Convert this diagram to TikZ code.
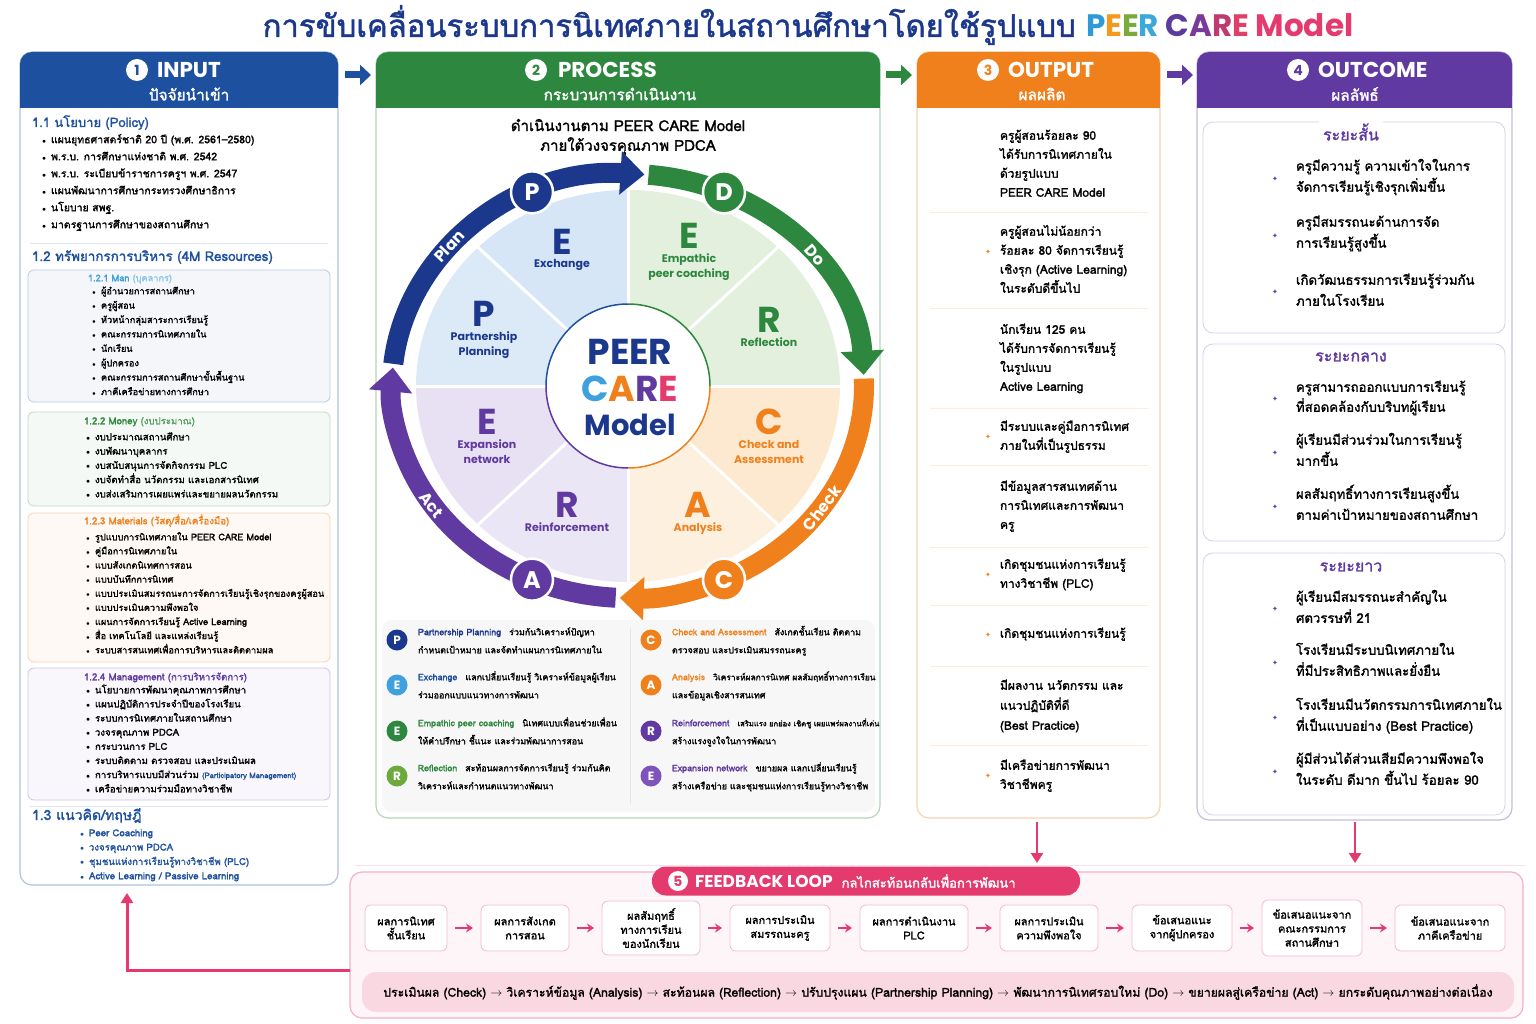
\documentclass[tikz,border=0pt]{standalone}
\usepackage{fontspec}
\setmainfont{Loma}[Script=Thai, AutoFakeBold=1.6]
\newfontfamily\popfont{Poppins}
\newfontfamily\symfont{DejaVu Sans}
\usepackage{xcolor}
\usepackage{tikz}
\usetikzlibrary{
  arrows.meta,
  positioning,
  calc
}
\newcommand{\dotb}{\makebox[9pt][l]{$\scriptstyle\bullet$}}

\begin{document}
\begin{tikzpicture}[
  x=1pt, y=-1pt,
  every node/.style={inner sep=0pt, outer sep=0pt},
  numc/.style={circle, fill=white, minimum size=22, font=\popfont\bfseries\fontsize{14}{14}\selectfont},
  headt/.style={text=white, font=\popfont\bfseries\fontsize{21.5}{22}\selectfont},
  subt/.style={text=white, font=\bfseries\fontsize{15.4}{16}\selectfont},
  sect/.style={anchor=west, font=\bfseries\fontsize{13}{15}\selectfont, text height=9pt, text depth=3pt},
  item/.style={anchor=west, font=\bfseries\fontsize{10.5}{12}\selectfont, text height=7pt, text depth=2.5pt},
  small/.style={item, font=\bfseries\fontsize{9.2}{10}\selectfont},
  subbox/.style={rounded corners=6, line width=0.8},
  column/.style={fill=white, rounded corners=12, line width=1.2},
  bigl/.style={font=\popfont\bfseries\fontsize{36}{36}\selectfont},
  secl/.style={font=\popfont\bfseries\fontsize{11}{15}\selectfont, align=center},
  ring/.style={line width=20, -{Triangle[width=42pt,length=24pt]}},
  ringc/.style={circle, draw=white, line width=2.5, minimum size=42, text=white, font=\popfont\bfseries\fontsize{24}{24}\selectfont},
  ringt/.style={text=white, font=\popfont\bfseries\fontsize{16}{16}\selectfont},
  legc/.style={circle, minimum size=21, text=white, font=\popfont\bfseries\fontsize{12}{12}\selectfont},
  legt/.style={anchor=west, font=\bfseries\fontsize{8.9}{10}\selectfont, text height=6.5pt, text depth=2pt},
  outt/.style={anchor=west, font=\bfseries\fontsize{12}{14}\selectfont, text height=8.5pt, text depth=3pt},
  occt/.style={outt, font=\bfseries\fontsize{13.2}{15}\selectfont},
  spark/.style={font=\symfont\fontsize{7}{7}\selectfont},
  termt/.style={fill=white, inner sep=4pt, text=cPurple, font=\bfseries\fontsize{16}{16}\selectfont},
  fbbox/.style={draw=cPink!35, fill=white, rounded corners=6, line width=0.8, align=center, font=\bfseries\fontsize{11}{14}\selectfont},
  fbarr/.style={cPink, line width=2, -{Stealth[length=7pt,width=9pt]}, shorten >=8pt, shorten <=8pt},
  colarr/.style={line width=7, -{Triangle[length=11pt,width=20pt]}},
  pinkarr/.style={cPink, line width=2.5, -{Triangle[length=10pt,width=12pt]}}
]
  % colours
  \definecolor{cNavy}{RGB}{28,56,140}
  \definecolor{cBlue}{RGB}{30,80,160}
  \definecolor{cSky}{RGB}{62,160,220}
  \definecolor{cGreen}{RGB}{46,135,62}
  \definecolor{cLime}{RGB}{108,170,62}
  \definecolor{cOrange}{RGB}{240,128,28}
  \definecolor{cPurple}{RGB}{96,58,160}
  \definecolor{cViolet}{RGB}{124,84,188}
  \definecolor{cPink}{RGB}{228,58,110}
  \definecolor{sBlue}{RGB}{220,234,248}
  \definecolor{sBlue2}{RGB}{214,230,247}
  \definecolor{sGreen}{RGB}{227,240,221}
  \definecolor{sOrange}{RGB}{253,233,208}
  \definecolor{sOrange2}{RGB}{253,240,222}
  \definecolor{sPurple}{RGB}{235,230,245}
  \definecolor{sPurple2}{RGB}{231,225,243}
  \definecolor{tP}{RGB}{46,154,214}
  \definecolor{tE}{RGB}{243,154,30}
  \definecolor{tE2}{RGB}{122,171,58}
  \definecolor{tR}{RGB}{58,168,216}
  \definecolor{tC}{RGB}{91,60,156}
  \definecolor{tA}{RGB}{122,58,154}
  \definecolor{tR2}{RGB}{192,58,112}
  \definecolor{tE3}{RGB}{224,64,104}

  \useasboundingbox (0,0) rectangle (1536,1024);
  \fill[white] (0,0) rectangle (1536,1024);

  % title
  \node[text=cNavy, font=\bfseries\fontsize{31}{34}\selectfont] (title) at (808,25)
    {การขับเคลื่อนระบบการนิเทศภายในสถานศึกษาโดยใช้รูปแบบ {\popfont{\color{tP}P}{\color{tE}E}{\color{tE2}E}{\color{tR}R} {\color{tC}C}{\color{tA}A}{\color{tR2}R}{\color{tE3}E} {\color{cPink}Model}}};

  % ---------- 1 input ----------
  \draw[column, draw=cBlue!35] (20,52) rectangle (338,885);
  \fill[cBlue, rounded corners=12] (20,52) rectangle (338,108);
  \fill[cBlue] (20,92) rectangle (338,108);
  \node[numc, text=cBlue] (n1) at (137,70) {1};
  \node[headt, right=9pt of n1] (hIn) {INPUT};
  \node[subt] (sIn) at (189,94) {ปัจจัยนำเข้า};

  \node[sect, text=cBlue] (pol) at (32,124) {1.1 นโยบาย (Policy)};
  \foreach \t [count=\i] in {แผนยุทธศาสตร์ชาติ 20 ปี (พ.ศ. 2561–2580), พ.ร.บ. การศึกษาแห่งชาติ พ.ศ. 2542,
    พ.ร.บ. ระเบียบข้าราชการครูฯ พ.ศ. 2547, แผนพัฒนาการศึกษากระทรวงศึกษาธิการ, นโยบาย สพฐ., มาตรฐานการศึกษาของสถานศึกษา}
    \node[item] (pol\i) at (42,{124+17*\i}) {\dotb\t};
  \draw[cBlue!15, line width=1] (30,244) -- (328,244);
  \node[sect, text=cBlue, font=\bfseries\fontsize{13.4}{15}\selectfont] (res) at (32,258) {1.2 ทรัพยากรการบริหาร (4M Resources)};

  % 4M boxes
  \draw[subbox, draw=cBlue!30, fill=cBlue!5] (28,270) rectangle (330,402);
  \node[small, text=cSky] (man) at (88,279) {1.2.1 Man {\color{cSky!60}(บุคลากร)}};
  \foreach \t [count=\i] in {ผู้อำนวยการสถานศึกษา, ครูผู้สอน, หัวหน้ากลุ่มสาระการเรียนรู้, คณะกรรมการนิเทศภายใน,
    นักเรียน, ผู้ปกครอง, คณะกรรมการสถานศึกษาขั้นพื้นฐาน, ภาคีเครือข่ายทางการศึกษา}
    \node[small] (man\i) at (92,{277.6+14.4*\i}) {\dotb\t};

  \draw[subbox, draw=cGreen!30, fill=cGreen!5] (28,412) rectangle (330,506);
  \node[small, text=cGreen, font=\bfseries\fontsize{9.6}{10}\selectfont] (mon) at (84,422) {1.2.2 Money {\color{cGreen!80}(งบประมาณ)}};
  \foreach \t [count=\i] in {งบประมาณสถานศึกษา, งบพัฒนาบุคลากร, งบสนับสนุนการจัดกิจกรรม PLC,
    งบจัดทำสื่อ นวัตกรรม และเอกสารนิเทศ, งบส่งเสริมการเผยแพร่และขยายผลนวัตกรรม}
    \node[small, font=\bfseries\fontsize{9.6}{10}\selectfont] (mon\i) at (86,{423.7+14.3*\i}) {\dotb\t};

  \draw[subbox, draw=cOrange!35, fill=cOrange!5] (28,513) rectangle (330,662);
  \node[small, text=cOrange, font=\bfseries\fontsize{9.6}{10}\selectfont] (mat) at (84,522) {1.2.3 Materials (วัสดุ/สื่อ/เครื่องมือ)};
  \foreach \t [count=\i] in {รูปแบบการนิเทศภายใน PEER CARE Model, คู่มือการนิเทศภายใน, แบบสังเกตนิเทศการสอน,
    แบบบันทึกการนิเทศ, แบบประเมินสมรรถนะการจัดการเรียนรู้เชิงรุกของครูผู้สอน, แบบประเมินความพึงพอใจ,
    แผนการจัดการเรียนรู้ Active Learning, สื่อ เทคโนโลยี และแหล่งเรียนรู้, ระบบสารสนเทศเพื่อการบริหารและติดตามผล}
    \node[small] (mat\i) at (86,{523.9+14.125*\i}) {\dotb\t};

  \draw[subbox, draw=cPurple!30, fill=cPurple!4] (28,668) rectangle (330,800);
  \node[small, text=cPurple, font=\bfseries\fontsize{9.6}{10}\selectfont] (mgt) at (84,678) {1.2.4 Management (การบริหารจัดการ)};
  \foreach \t [count=\i] in {นโยบายการพัฒนาคุณภาพการศึกษา, แผนปฏิบัติการประจำปีของโรงเรียน, ระบบการนิเทศภายในสถานศึกษา,
    วงจรคุณภาพ PDCA, กระบวนการ PLC, ระบบติดตาม ตรวจสอบ และประเมินผล,
    การบริหารแบบมีส่วนร่วม {\color{cBlue}\fontsize{7.6}{8}\selectfont (Participatory Management)}, เครือข่ายความร่วมมือทางวิชาชีพ}
    \node[small, font=\bfseries\fontsize{9.6}{10}\selectfont] (mgt\i) at (86,{676.9+14.14*\i}) {\dotb\t};

  \draw[cBlue!15, line width=1] (30,806) -- (328,806);
  \node[sect, text=cBlue, font=\bfseries\fontsize{14}{16}\selectfont] (thy) at (32,817) {1.3 แนวคิด/ทฤษฎี};
  \foreach \t [count=\i] in {Peer Coaching, วงจรคุณภาพ PDCA, ชุมชนแห่งการเรียนรู้ทางวิชาชีพ (PLC), Active Learning / Passive Learning}
    \node[small, text=cBlue, font=\bfseries\fontsize{9.6}{10}\selectfont] (thy\i) at (80,{819.7+14.33*\i}) {\dotb\t};

  % ---------- 2 process ----------
  \draw[column, draw=cGreen!35] (376,52) rectangle (880,818);
  \fill[cGreen, rounded corners=12] (376,52) rectangle (880,108);
  \fill[cGreen] (376,92) rectangle (880,108);
  \node[numc, text=cGreen] (n2) at (536,70) {2};
  \node[headt, right=11pt of n2] (hPr) {PROCESS};
  \node[subt] (sPr) at (620,94) {กระบวนการดำเนินงาน};
  \node[font=\bfseries\fontsize{15}{16}\selectfont] (pr1) at (628,125) {ดำเนินงานตาม PEER CARE Model};
  \node[font=\bfseries\fontsize{15}{16}\selectfont] (pr2) at (628,146) {ภายใต้วงจรคุณภาพ PDCA};

  % wheel sectors
  \coordinate (ctr) at (628,386);
  \foreach \a/\c in {180/sBlue, 225/sBlue2, 270/sGreen, 315/sGreen, 0/sOrange, 45/sOrange2, 90/sPurple, 135/sPurple2}
    \fill[\c] (ctr) -- ++(\a:212 and 196) arc[start angle=\a, end angle=\a+45, x radius=212, y radius=196] -- cycle;
  \foreach \a in {0,45,...,315}
    \draw[white, line width=3] (ctr) -- ++(\a:214 and 198);

  % core
  \node[circle, fill=white, minimum size=164] (core) at (ctr) {};
  \draw[cBlue, line width=1.5] (ctr) ++(180:82) arc[start angle=180, end angle=270, radius=82];
  \draw[cGreen, line width=1.5] (ctr) ++(270:82) arc[start angle=270, end angle=360, radius=82];
  \draw[cOrange, line width=1.5] (ctr) ++(0:82) arc[start angle=0, end angle=90, radius=82];
  \draw[cPurple, line width=1.5] (ctr) ++(90:82) arc[start angle=90, end angle=180, radius=82];
  \node[bigl, text=cNavy] (cPeer) at (630,352) {PEER};
  \node[bigl] (cCare) at (630,389) {{\color{cSky}C}{\color{cOrange}A}{\color{cPurple}R}{\color{cPink}E}};
  \node[bigl, text=cNavy, font=\popfont\bfseries\fontsize{29}{29}\selectfont] (cModel) at (630,425) {Model};

  % sector letters
  \foreach \x/\y/\c/\l/\t [count=\i] in {562/242/cNavy/E/Exchange, 484/314/cNavy/P/Partnership\\Planning,
    689/236/cGreen/E/Empathic\\peer coaching, 769/320/cGreen/R/Reflection,
    769/422/cOrange/C/Check and\\Assessment, 698/505/cOrange/A/Analysis,
    567/505/cPurple/R/Reinforcement, 487/422/cPurple/E/Expansion\\network}
  {
    \node[bigl, text=\c] (sl\i) at (\x,\y) {\l};
    \node[secl, text=\c, below=5pt of sl\i] (st\i) {\t};
  }

  % pdca ring
  \draw[ring, cNavy] (ctr) ++(186:236 and 212) arc[start angle=186, end angle=274, x radius=236, y radius=212];
  \draw[ring, cGreen] (ctr) ++(275:236 and 212) arc[start angle=275, end angle=357, x radius=236, y radius=212];
  \draw[ring, cOrange] (ctr) ++(358:236 and 212) arc[start angle=358, end angle=452, x radius=236, y radius=212];
  \draw[ring, cPurple] (ctr) ++(93:236 and 212) arc[start angle=93, end angle=185, x radius=236, y radius=212];
  \path (ctr) ++(246:236 and 212) node[ringc, fill=cNavy] (rP) {P};
  \path (ctr) ++(294:236 and 212) node[ringc, fill=cGreen] (rD) {D};
  \path (ctr) ++(66:236 and 212) node[ringc, fill=cOrange] (rC) {C};
  \path (ctr) ++(114:236 and 212) node[ringc, fill=cPurple] (rA) {A};
  \path (ctr) ++(221:237 and 213) node[ringt, rotate=47] (lPlan) {Plan};
  \path (ctr) ++(322:237 and 213) node[ringt, rotate=-49] (lDo) {Do};
  \path (ctr) ++(35:237 and 213) node[ringt, rotate=52] (lCheck) {Check};
  \path (ctr) ++(146:237 and 213) node[ringt, rotate=-52] (lAct) {Act};

  % legend
  \fill[black!3, rounded corners=10] (382,620) rectangle (875,812);
  \draw[black!10] (630,628) -- (630,804);
  \foreach \x/\y/\c/\l/\k/\h/\t/\u [count=\i] in {
    397/640/cNavy/P/cNavy/Partnership Planning/ร่วมกันวิเคราะห์ปัญหา/กำหนดเป้าหมาย และจัดทำแผนการนิเทศภายใน,
    397/685/cSky/E/cBlue/Exchange/แลกเปลี่ยนเรียนรู้ วิเคราะห์ข้อมูลผู้เรียน/ร่วมออกแบบแนวทางการพัฒนา,
    397/731/cGreen/E/cGreen/Empathic peer coaching/นิเทศแบบเพื่อนช่วยเพื่อน/ให้คำปรึกษา ชี้แนะ และร่วมพัฒนาการสอน,
    397/776/cLime/R/cGreen/Reflection/สะท้อนผลการจัดการเรียนรู้ ร่วมกันคิด/วิเคราะห์และกำหนดแนวทางพัฒนา,
    651/640/cOrange/C/cOrange/Check and Assessment/สังเกตชั้นเรียน ติดตาม/ตรวจสอบ และประเมินสมรรถนะครู,
    651/685/cOrange/A/cOrange/Analysis/{\fontsize{8.4}{9}\selectfont วิเคราะห์ผลการนิเทศ ผลสัมฤทธิ์ทางการเรียน}/และข้อมูลเชิงสารสนเทศ,
    651/731/cPurple/R/cPurple/Reinforcement/{\fontsize{7.6}{9}\selectfont เสริมแรง ยกย่อง เชิดชู เผยแพร่ผลงานที่เด่น}/สร้างแรงจูงใจในการพัฒนา,
    651/776/cViolet/E/cPurple/Expansion network/ขยายผล แลกเปลี่ยนเรียนรู้/สร้างเครือข่าย และชุมชนแห่งการเรียนรู้ทางวิชาชีพ}
  {
    \node[legc, fill=\c] (lg\i) at (\x,\y) {\l};
    \node[legt] (lga\i) at (\x+21,\y-7) {{\color{\k}\h}\hspace{8pt}\t};
    \node[legt] (lgb\i) at (\x+21,\y+11) {\u};
  }

  % ---------- 3 output ----------
  \draw[column, draw=cOrange!35] (917,52) rectangle (1160,818);
  \fill[cOrange, rounded corners=12] (917,52) rectangle (1160,108);
  \fill[cOrange] (917,92) rectangle (1160,108);
  \node[numc, text=cOrange] (n3) at (988,70) {3};
  \node[headt, right=9pt of n3] (hOut) {OUTPUT};
  \node[subt] (sOut) at (1042,94) {ผลผลิต};
  \foreach \y in {212,308,408,465,547,605,666,745}
    \draw[cOrange!15] (930,\y) -- (1148,\y);
  \foreach \y/\t [count=\i] in {137/ครูผู้สอนร้อยละ 90, 156/ได้รับการนิเทศภายใน, 175/ด้วยรูปแบบ, 194/PEER CARE Model,
    233/ครูผู้สอนไม่น้อยกว่า, 252/ร้อยละ 80 จัดการเรียนรู้, 271/เชิงรุก (Active Learning), 290/ในระดับดีขึ้นไป,
    331/นักเรียน 125 คน, 350/ได้รับการจัดการเรียนรู้, 369/ในรูปแบบ, 388/Active Learning,
    428/มีระบบและคู่มือการนิเทศ, 447/ภายในที่เป็นรูปธรรม,
    488/มีข้อมูลสารสนเทศด้าน, 507/การนิเทศและการพัฒนา, 526/ครู,
    566/เกิดชุมชนแห่งการเรียนรู้, 585/ทางวิชาชีพ (PLC),
    635/เกิดชุมชนแห่งการเรียนรู้,
    687/มีผลงาน นวัตกรรม และ, 707/แนวปฏิบัติที่ดี, 727/(Best Practice),
    767/มีเครือข่ายการพัฒนา, 786/วิชาชีพครู}
    \node[outt] (out\i) at (1000,\y) {\t};
  \foreach \y [count=\i] in {252,437,575,635,776}
    \node[spark, text=cOrange] (sko\i) at (988,\y) {✦};

  % ---------- 4 outcome ----------
  \draw[column, draw=cPurple!35] (1197,52) rectangle (1512,820);
  \fill[cPurple, rounded corners=12] (1197,52) rectangle (1512,108);
  \fill[cPurple] (1197,92) rectangle (1512,108);
  \node[numc, text=cPurple] (n4) at (1298,70) {4};
  \node[headt, right=9pt of n4] (hOc) {OUTCOME};
  \node[subt] (sOc) at (1355,94) {ผลลัพธ์};
  \draw[subbox, draw=cPurple!25, fill=white, rounded corners=10] (1203,122) rectangle (1505,333);
  \draw[subbox, draw=cPurple!25, fill=white, rounded corners=10] (1203,344) rectangle (1505,541);
  \draw[subbox, draw=cPurple!25, fill=white, rounded corners=10] (1203,553) rectangle (1505,815);
  \node[termt] (tShort) at (1351,132) {ระยะสั้น};
  \node[termt] (tMid) at (1351,357) {ระยะกลาง};
  \node[termt] (tLong) at (1351,567) {ระยะยาว};
  \foreach \y/\t [count=\i] in {168/ครูมีความรู้ ความเข้าใจในการ, 189/จัดการเรียนรู้เชิงรุกเพิ่มขึ้น,
    224/ครูมีสมรรถนะด้านการจัด, 245/การเรียนรู้สูงขึ้น,
    282/เกิดวัฒนธรรมการเรียนรู้ร่วมกัน, 303/ภายในโรงเรียน,
    389/ครูสามารถออกแบบการเรียนรู้, 409/ที่สอดคล้องกับบริบทผู้เรียน,
    442/ผู้เรียนมีส่วนร่วมในการเรียนรู้, 463/มากขึ้น,
    496/ผลสัมฤทธิ์ทางการเรียนสูงขึ้น, 517/ตามค่าเป้าหมายของสถานศึกษา,
    599/ผู้เรียนมีสมรรถนะสำคัญใน, 620/ศตวรรษที่ 21,
    652/โรงเรียนมีระบบนิเทศภายใน, 673/ที่มีประสิทธิภาพและยั่งยืน,
    707/โรงเรียนมีนวัตกรรมการนิเทศภายใน, 728/ที่เป็นแบบอย่าง (Best Practice),
    761/ผู้มีส่วนได้ส่วนเสียมีความพึงพอใจ, 782/ในระดับ ดีมาก ขึ้นไป ร้อยละ 90}
    \node[occt] (oc\i) at (1296,\y) {\t};
  \foreach \y [count=\i] in {179,236,292,399,453,507,609,663,718,772}
    \node[spark, text=cPurple] (skc\i) at (1275,\y) {✦};

  % arrows between columns
  \coordinate (a1s) at (345,75);  \coordinate (a1e) at (371,75);
  \coordinate (a2s) at (886,75);  \coordinate (a2e) at (912,75);
  \coordinate (a3s) at (1167,75); \coordinate (a3e) at (1193,75);
  \draw[colarr, cBlue] (a1s) -- (a1e);
  \draw[colarr, cGreen] (a2s) -- (a2e);
  \draw[colarr, cPurple] (a3s) -- (a3e);

  % ---------- 5 feedback loop ----------
  \draw[cPink!15, line width=1] (355,865) -- (1525,865);
  \draw[fill=cPink!5, draw=cPink!40, line width=1.2, rounded corners=12] (350,872) rectangle (1523,1018);
  \node[fill=cPink, rounded corners=14, minimum width=428, minimum height=29] (fbHead) at (866,881) {};
  \node[numc, minimum size=20, text=cPink] (n5) at (678,881) {5};
  \node[headt, font=\popfont\bfseries\fontsize{17}{17}\selectfont, right=7pt of n5] (fbT) {FEEDBACK LOOP};
  \node[subt, font=\bfseries\fontsize{13}{13}\selectfont, right=9pt of fbT] (fbS) {กลไกสะท้อนกลับเพื่อการพัฒนา};

  \foreach \x/\w/\h/\t [count=\i] in {406/82/46/ผลการนิเทศ\\ชั้นเรียน, 525/88/46/ผลการสังเกต\\การสอน,
    651/98/54/ผลสัมฤทธิ์\\ทางการเรียน\\ของนักเรียน, 780/100/46/ผลการประเมิน\\สมรรถนะครู,
    914/108/46/ผลการดำเนินงาน\\PLC, 1049/98/46/ผลการประเมิน\\ความพึงพอใจ,
    1182/100/46/ข้อเสนอแนะ\\จากผู้ปกครอง, 1312/100/56/ข้อเสนอแนะจาก\\คณะกรรมการ\\สถานศึกษา,
    1450/110/46/ข้อเสนอแนะจาก\\ภาคีเครือข่าย}
    \node[fbbox, minimum width=\w, minimum height=\h] (fb\i) at (\x,928) {\t};
  \foreach \i [evaluate=\i as \j using int(\i+1)] in {1,...,8}
    \draw[fbarr] (fb\i) -- (fb\j);

  \node[fill=cPink!20, rounded corners=14, minimum width=1152, minimum height=40,
    font=\bfseries\fontsize{12.2}{13}\selectfont] (fbFlow) at (938,992)
    {ประเมินผล (Check) $\rightarrow$ วิเคราะห์ข้อมูล (Analysis) $\rightarrow$ สะท้อนผล (Reflection) $\rightarrow$
     ปรับปรุงแผน (Partnership Planning) $\rightarrow$ พัฒนาการนิเทศรอบใหม่ (Do) $\rightarrow$
     ขยายผลสู่เครือข่าย (Act) $\rightarrow$ ยกระดับคุณภาพอย่างต่อเนื่อง};

  % feedback connectors
  \coordinate (outBot) at (1037,822);  \coordinate (fbInA) at (1037,863);
  \coordinate (ocBot) at (1355,822);   \coordinate (fbInB) at (1355,863);
  \coordinate (fbWest) at (350,970);   \coordinate (inBot) at (127,893);
  \draw[pinkarr] (outBot) -- (fbInA);
  \draw[pinkarr] (ocBot) -- (fbInB);
  \draw[pinkarr, line width=3] (fbWest) -| (inBot);

\end{tikzpicture}
\end{document}
